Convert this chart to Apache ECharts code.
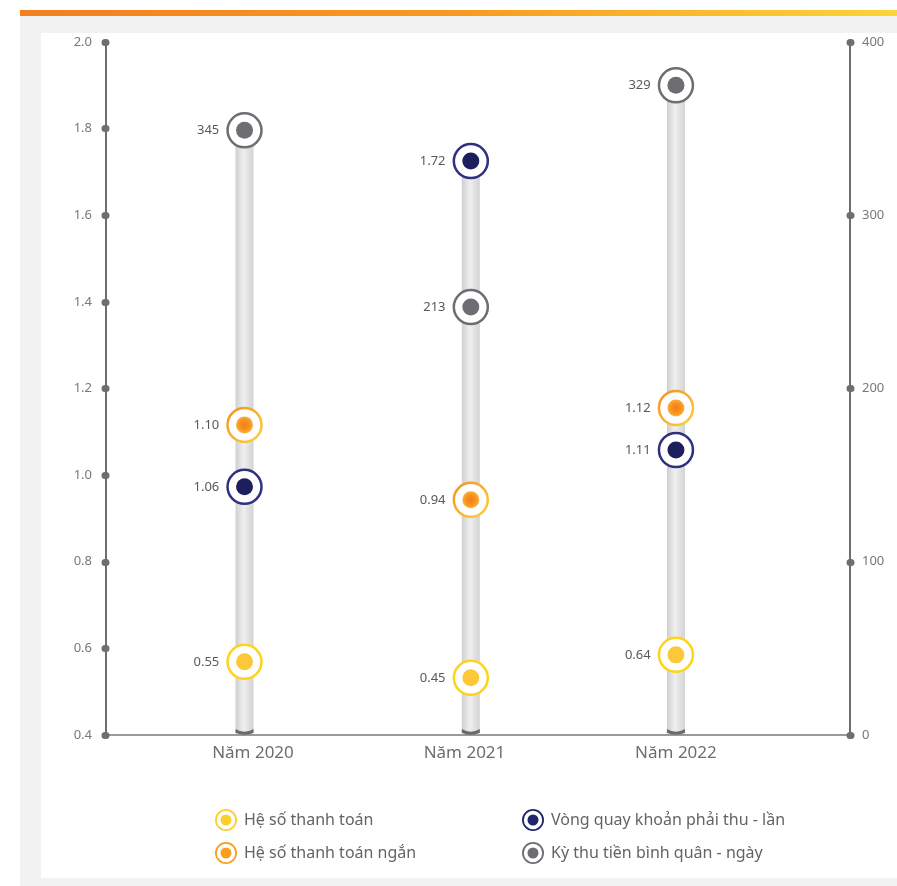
<!DOCTYPE html>
<html>
<head>
<meta charset="utf-8">
<script src="https://cdn.jsdelivr.net/npm/echarts@6/dist/echarts.min.js"></script>
<style>
  html, body { margin: 0; padding: 0; background: #fff; }
  #main { width: 897px; height: 886px; }
</style>
</head>
<body>
<div id="main"></div>
<script>
// danh mục năm
var years = ['Năm 2020', 'Năm 2021', 'Năm 2022'];
var yearTicks = [1, 2, 3];          // vị trí nhãn năm trên trục x
var columnX = [0.96, 2.03, 3.0];    // vị trí các cột

// trục trái: hệ số (lần), trục phải: ngày
var leftTicks = [0.4, 2.0, 0.2];
var rightTicks = [0, 400, 100];

// giá trị vẽ (đọc theo vị trí trên hình) và nhãn in trên hình
var heSoThanhToan = [0.569, 0.532, 0.585];
var heSoThanhToanLabel = ['0.55', '0.45', '0.64'];
var heSoNgan = [1.116, 0.943, 1.155];
var heSoNganLabel = ['1.10', '0.94', '1.12'];
var vongQuay = [0.973, 1.725, 1.058];
var vongQuayLabel = ['1.06', '1.72', '1.11'];
var kyThu = [349, 247, 375];
var kyThuLabel = ['345', '213', '329'];

var names = ['Hệ số thanh toán', 'Hệ số thanh toán ngắn', 'Vòng quay khoản phải thu - lần', 'Kỳ thu tiền bình quân - ngày'];

var chart = echarts.init(document.getElementById('main'));
var FONT = 'Noto Sans';

function toLeft(v) { // đổi giá trị trục phải sang đơn vị trục trái
  return leftTicks[0] + (v - rightTicks[0]) / (rightTicks[1] - rightTicks[0]) * (leftTicks[1] - leftTicks[0]);
}
var tubeData = columnX.map(function (x, i) {
  return [x, Math.max(heSoThanhToan[i], heSoNgan[i], vongQuay[i], toLeft(kyThu[i]))];
});
function pts(vals) { return vals.map(function (v, i) { return [columnX[i], v]; }); }

var ringIcon = 'path://M0,17A17,17 0 1,1 34,17A17,17 0 1,1 0,17Z' +
  'M2.8,17A14.2,14.2 0 1,0 31.2,17A14.2,14.2 0 1,0 2.8,17Z' +
  'M8.5,17A8.5,8.5 0 1,1 25.5,17A8.5,8.5 0 1,1 8.5,17Z';

var orangeRing = new echarts.graphic.LinearGradient(0, 0, 1, 1, [
  { offset: 0, color: '#f68e1f' }, { offset: 1, color: '#fdd33a' }]);
var orangeDot = new echarts.graphic.RadialGradient(0.5, 0.5, 0.5, [
  { offset: 0, color: '#f47a20' }, { offset: 0.6, color: '#f7941d' }, { offset: 1, color: '#fbb040' }]);

var styles = [
  { ring: '#fdd31c', dot: '#fcc83a', icon: '#fdcf2a', labels: heSoThanhToanLabel, data: heSoThanhToan, axis: 0 },
  { ring: orangeRing, dot: orangeDot, icon: '#f7a020', labels: heSoNganLabel, data: heSoNgan, axis: 0 },
  { ring: '#2e3080', dot: '#1b1f5c', icon: '#23266b', labels: vongQuayLabel, data: vongQuay, axis: 0 },
  { ring: '#6d6e71', dot: '#6d6e71', icon: '#6d6e71', labels: kyThuLabel, data: kyThu, axis: 1 }
];

var series = [{
  type: 'custom',
  silent: true,
  z: 1,
  data: tubeData,
  renderItem: function (params, api) {
    var top = api.coord([api.value(0), api.value(1)]);
    var base = api.coord([api.value(0), leftTicks[0]]);
    var w = 18, l = top[0] - w / 2, r = top[0] + w / 2, b = base[1];
    var x = top[0];
    return {
      type: 'group',
      children: [{
        type: 'rect',
        shape: { x: l, y: top[1], width: w, height: b - top[1] - 3 },
        style: {
          fill: new echarts.graphic.LinearGradient(0, 0, 1, 0, [
            { offset: 0, color: '#cfcfd1' }, { offset: 0.45, color: '#efeff0' }, { offset: 1, color: '#d3d3d5' }])
        }
      }, {
        type: 'path',
        shape: {
          pathData: 'M' + l + ',' + (b - 6) + ' Q' + x + ',' + (b - 0.5) + ' ' + r + ',' + (b - 6) +
            ' L' + r + ',' + (b - 2) + ' Q' + x + ',' + (b + 1.5) + ' ' + l + ',' + (b - 2) + ' Z'
        },
        style: { fill: '#6a6a6c' }
      }]
    };
  }
}];

styles.forEach(function (s, k) {
  series.push({
    name: names[k],
    type: 'scatter',
    yAxisIndex: s.axis,
    z: 3,
    symbol: 'circle',
    symbolSize: 34,
    data: pts(s.data),
    itemStyle: { color: '#fff', borderColor: s.ring, borderWidth: 2.5, opacity: 1 },
    label: {
      show: true,
      position: 'left',
      distance: 7,
      fontFamily: FONT,
      fontSize: 13,
      color: '#58595b',
      formatter: function (p) { return s.labels[p.dataIndex]; }
    },
    emphasis: { scale: false }
  });
  series.push({
    name: names[k],
    type: 'scatter',
    yAxisIndex: s.axis,
    z: 4,
    symbol: 'circle',
    symbolSize: 17,
    data: pts(s.data),
    itemStyle: { color: s.dot, opacity: 1 },
    emphasis: { scale: false }
  });
});

function legendItems(idx) {
  return idx.map(function (k) {
    return { name: names[k], icon: ringIcon, itemStyle: { color: styles[k].icon, borderWidth: 0 } };
  });
}
var legendCommon = {
  orient: 'vertical',
  top: 804,
  itemWidth: 22,
  itemHeight: 22,
  itemGap: 11,
  textStyle: { fontFamily: FONT, fontSize: 16, color: '#636466', padding: [0, 0, 0, 2] }
};

var axisDots = { show: true, length: 1, lineStyle: { width: 7, cap: 'round', color: '#6d6e71' } };

var option = {
  animation: false,
  graphic: [
    { type: 'rect', z: -10, silent: true, shape: { x: 20, y: 15, width: 877, height: 871 }, style: { fill: '#f2f2f2' } },
    { type: 'rect', z: -9, silent: true, shape: { x: 41, y: 33, width: 856, height: 845 }, style: { fill: '#ffffff' } },
    {
      type: 'rect', z: -8, silent: true, shape: { x: 20, y: 10, width: 877, height: 6 },
      style: {
        fill: new echarts.graphic.LinearGradient(0, 0, 1, 0, [
          { offset: 0, color: '#f47f20' }, { offset: 0.5, color: '#f89a1f' }, { offset: 1, color: '#fdd537' }])
      }
    }
  ],
  grid: { left: 106, right: 47, top: 42, bottom: 151 },
  legend: [
    Object.assign({ left: 210, data: legendItems([0, 1]) }, legendCommon),
    Object.assign({ left: 517, data: legendItems([2, 3]) }, legendCommon)
  ],
  xAxis: {
    type: 'value',
    min: 0.305,
    max: 3.823,
    splitLine: { show: false },
    axisTick: { show: false },
    axisLine: { show: true, onZero: false, lineStyle: { color: '#7a7a7c', width: 1.5 } },
    axisLabel: {
      customValues: yearTicks,
      margin: 10,
      fontFamily: FONT,
      fontSize: 17,
      color: '#6d6e71',
      formatter: function (v) { return years[Math.round(v) - 1] || ''; }
    }
  },
  yAxis: [{
    type: 'value',
    min: leftTicks[0],
    max: leftTicks[1],
    interval: leftTicks[2],
    splitLine: { show: false },
    axisLine: { show: true, lineStyle: { color: '#6d6e71', width: 2 } },
    axisTick: axisDots,
    axisLabel: {
      margin: 14,
      fontFamily: FONT,
      fontSize: 13,
      color: '#77787b',
      formatter: function (v) { return v.toFixed(1); }
    }
  }, {
    type: 'value',
    position: 'right',
    min: rightTicks[0],
    max: rightTicks[1],
    interval: rightTicks[2],
    splitLine: { show: false },
    axisLine: { show: true, lineStyle: { color: '#6d6e71', width: 2 } },
    axisTick: axisDots,
    axisLabel: { margin: 12, fontFamily: FONT, fontSize: 13, color: '#77787b' }
  }],
  series: series
};

chart.setOption(option);
</script>
</body>
</html>
